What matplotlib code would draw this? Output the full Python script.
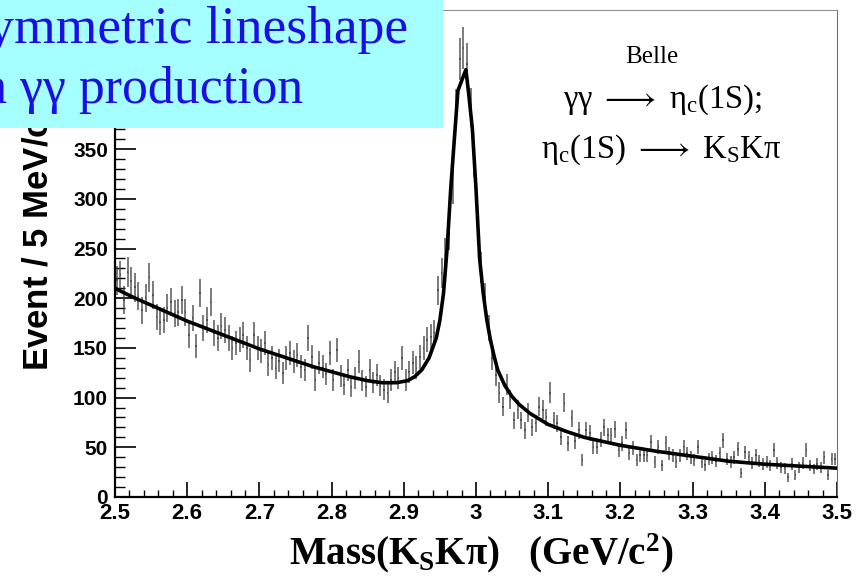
import numpy as np
import matplotlib
matplotlib.use("Agg")
import matplotlib.pyplot as plt
from matplotlib.patches import Rectangle
from matplotlib.ticker import MultipleLocator

plt.rcParams['mathtext.fontset'] = 'custom'
plt.rcParams['mathtext.rm'] = 'Liberation Serif'
plt.rcParams['mathtext.it'] = 'Liberation Serif:italic'
plt.rcParams['mathtext.bf'] = 'Liberation Serif:bold'

# 5 MeV bins from 2.5 to 3.5 GeV
bin_lo = 2.5
bin_w = 0.005
counts = [
    218, 223, 198, 226, 217, 211, 202, 188, 200, 221, 203, 181, 176, 178, 190, 196, 185, 186, 198, 186,
    163, 180, 152, 205, 170, 178, 196, 165, 160, 172, 168, 160, 150, 155, 158, 163, 150, 138, 163, 150,
    147, 155, 133, 140, 130, 137, 125, 140, 145, 136, 143, 131, 128, 160, 141, 118, 135, 131, 124, 145,
    118, 148, 122, 113, 128, 111, 120, 136, 117, 111, 128, 115, 123, 112, 108, 105, 118, 126, 120, 140,
    118, 126, 135, 130, 141, 150, 158, 161, 165, 208, 225, 245, 265, 312, 391, 441, 452, 436, 392, 340,
    270, 231, 201, 170, 140, 123, 105, 91, 113, 98, 77, 88, 77, 67, 85, 70, 74, 91, 88, 80,
    105, 77, 74, 60, 95, 54, 79, 56, 67, 37, 67, 64, 50, 50, 58, 70, 62, 62, 68, 47,
    54, 67, 44, 49, 37, 42, 42, 42, 55, 35, 50, 32, 54, 44, 42, 35, 42, 50, 44, 40,
    37, 50, 35, 32, 38, 40, 36, 44, 57, 38, 35, 40, 48, 24, 45, 40, 34, 42, 36, 33,
    35, 32, 47, 34, 30, 29, 20, 33, 22, 30, 34, 47, 32, 28, 33, 30, 40, 22, 38, 38,
]

# fitted lineshape
fit_mass = [2.500, 2.525, 2.550, 2.575, 2.600, 2.625, 2.650, 2.675, 2.700, 2.725,
            2.750, 2.775, 2.800, 2.825, 2.850, 2.870, 2.890, 2.905, 2.915, 2.925,
            2.935, 2.945, 2.950, 2.955, 2.960, 2.965, 2.970, 2.975, 2.986, 2.990,
            2.995, 3.000, 3.005, 3.010, 3.015, 3.020, 3.025, 3.030, 3.040, 3.050,
            3.060, 3.075, 3.100, 3.125, 3.150, 3.175, 3.200, 3.250, 3.300, 3.350,
            3.400, 3.450, 3.500]
fit_val = [210, 201, 193, 185, 177, 170, 163, 156, 149, 143,
           137, 131, 126, 121, 117, 115, 115, 117, 121, 128,
           140, 160, 178, 205, 250, 310, 360, 409, 430, 405,
           370, 310, 240, 205, 178, 158, 142, 128, 112, 101,
           93, 84, 73, 66, 60, 56, 52, 46, 41, 36,
           33, 31, 29]

centers = bin_lo + bin_w * (np.arange(len(counts)) + 0.5)
counts = np.array(counts, dtype=float)

W, H = 856, 578
fig = plt.figure(figsize=(W / 100, H / 100), dpi=100)
ax = fig.add_axes([115 / W, 1 - 497 / H, (837 - 115) / W, (497 - 10) / H])

ax.errorbar(centers, counts, yerr=np.sqrt(counts), xerr=0.0011, fmt='none',
            ecolor='#3a3a3a', elinewidth=1.1, capsize=0, alpha=0.85)
ax.plot(fit_mass, fit_val, color='black', lw=2.6, solid_joinstyle='round')

ax.set_xlim(2.5, 3.5)
ax.set_ylim(0, 490)
ax.xaxis.set_major_locator(MultipleLocator(0.1))
ax.xaxis.set_minor_locator(MultipleLocator(0.02))
ax.yaxis.set_major_locator(MultipleLocator(50))
ax.yaxis.set_minor_locator(MultipleLocator(10))
ax.set_xticks(np.arange(2.5, 3.51, 0.1))
ax.set_xticklabels(['2.5', '2.6', '2.7', '2.8', '2.9', '3', '3.1', '3.2', '3.3', '3.4', '3.5'])
ax.set_yticks(np.arange(0, 351, 50))
ax.tick_params(axis='x', which='major', direction='in', length=11, width=1.2, pad=4,
               labelsize=16, top=False)
ax.tick_params(axis='x', which='minor', direction='in', length=5, width=1.0, top=False)
ax.tick_params(axis='y', which='major', direction='in', length=15, width=1.2, pad=5,
               labelsize=15, right=False)
ax.tick_params(axis='y', which='minor', direction='in', length=7, width=1.0, right=False)
for lab in ax.get_xticklabels() + ax.get_yticklabels():
    lab.set_fontfamily('Liberation Sans')
    lab.set_fontweight('bold')
ax.spines['left'].set_linewidth(1.6)
ax.spines['bottom'].set_linewidth(1.6)
ax.spines['top'].set_color('#909090')
ax.spines['right'].set_color('#707070')

fig.text(39 / W, 1 - 238 / H, 'Event / 5 MeV/c$^{\\bf 2}$', rotation=90, ha='center', va='center',
         fontsize=25, fontweight='bold', family='Liberation Sans')
fig.text(481 / W, 1 - 553 / H, 'Mass(K$_{\\bf S}$Kπ)   (GeV/c$^{\\bf 2}$)', ha='center', va='center',
         fontsize=28, fontweight='bold', family=['Liberation Serif', 'DejaVu Serif'])

serif = ['Liberation Serif', 'DejaVu Serif']
ax.text(652 / W, 1 - 57 / H, 'Belle', transform=fig.transFigure, ha='center', va='center',
        fontsize=18, family=serif)
ax.text(663 / W, 1 - 100 / H, 'γγ $\\longrightarrow$ η$_{\\rm c}$(1S);', transform=fig.transFigure,
        ha='center', va='center', fontsize=23.5, family=serif)
ax.text(661 / W, 1 - 150 / H, 'η$_{\\rm c}$(1S) $\\longrightarrow$ K$_{\\rm S}$Kπ', transform=fig.transFigure,
        ha='center', va='center', fontsize=23.5, family=serif)

# cyan banner, cut at the left edge of the slide
fig.add_artist(Rectangle((0, 1 - 128 / H), 443 / W, 128 / H, transform=fig.transFigure,
                         facecolor='#a6ffff', edgecolor='none', zorder=5))
fig.text(408 / W, 1 - 43 / H, 'Asymmetric lineshape', ha='right', va='baseline',
         fontsize=38.5, color='#1a10e6', family=serif, zorder=6)
fig.text(303 / W, 1 - 103 / H, 'in γγ production', ha='right', va='baseline',
         fontsize=37.3, color='#1a10e6', family=serif, zorder=6)

fig.savefig('out.png', dpi=100)
